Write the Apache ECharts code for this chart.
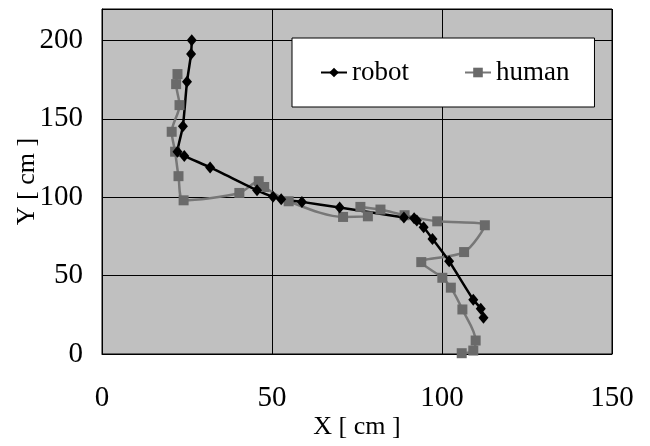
<!DOCTYPE html>
<html>
<head>
<meta charset="utf-8">
<script src="https://cdn.jsdelivr.net/npm/echarts@6/dist/echarts.min.js"></script>
<style>html,body{margin:0;padding:0;background:#fff}#c{width:650px;height:446px}</style>
</head>
<body>
<div id="c"></div>
<script>
var xTicks = [0, 50, 100, 150];
var yTicks = [0, 50, 100, 150, 200];
var robotX = [26.4, 26.2, 25.0, 23.8, 22.2, 24.2, 31.8, 45.6, 50.3, 52.7, 58.8, 69.9, 88.8, 91.8, 92.6, 94.6, 97.2, 102.1, 109.2, 111.4, 112.2];
var robotY = [200, 191.3, 173.6, 145.3, 129, 126.3, 119, 104.4, 100.2, 98.7, 97, 93.4, 87, 86.6, 85.2, 80.8, 73.4, 59.1, 34.6, 28.9, 23.1];
var humanX = [22.2, 21.8, 22.8, 20.5, 21.5, 22.5, 24.0, 40.4, 46.1, 47.7, 54.9, 70.9, 78.2, 76.0, 81.9, 89.0, 98.6, 112.6, 106.5, 93.9, 100.1, 102.6, 106.0, 109.9, 109.2, 105.8];
var humanY = [178.5, 172.1, 158.7, 141.7, 129, 113.4, 98, 102.7, 110.2, 106.5, 97.4, 87.4, 87.8, 93.8, 92.1, 88.5, 84.6, 82.1, 65, 58.6, 48.6, 42.3, 28.4, 8.6, 2.2, 0.5];

function pairs(xs, ys) { return xs.map(function (x, i) { return [x, ys[i]]; }); }
var FONT = 'Liberation Serif';
var chart = echarts.init(document.getElementById('c'), null, { renderer: 'canvas' });
chart.setOption({
  animation: false,
  textStyle: { fontFamily: FONT, color: '#000' },
  grid: { left: 102, right: 38, top: 9, bottom: 92, containLabel: false, outerBoundsMode: 'none',
    show: true, backgroundColor: '#c0c0c0', borderColor: '#000', borderWidth: 1 },
  legend: {
    data: ['robot', 'human'],
    left: 292, top: 38,
    padding: [21, 25, 21, 28],
    itemGap: 55, itemWidth: 26, itemHeight: 12,
    backgroundColor: '#fff', borderColor: '#000', borderWidth: 1,
    textStyle: { fontFamily: FONT, fontSize: 27, color: '#000' }
  },
  xAxis: {
    type: 'value', min: xTicks[0], max: xTicks[xTicks.length - 1], interval: 50,
    name: 'X [ cm ]', nameLocation: 'middle', nameGap: 60, nameMoveOverlap: false,
    nameTextStyle: { fontFamily: FONT, fontSize: 26, color: '#000' },
    axisLine: { show: true, lineStyle: { color: '#000', width: 1 } },
    axisTick: { show: false },
    axisLabel: { fontFamily: FONT, fontSize: 29, color: '#000', margin: 30 },
    splitLine: { show: true, lineStyle: { color: '#000', width: 1 } }
  },
  yAxis: {
    type: 'value', min: yTicks[0], max: 220, interval: 50,
    name: 'Y [ cm ]', nameLocation: 'middle', nameGap: 75, nameMoveOverlap: false,
    nameTextStyle: { fontFamily: FONT, fontSize: 26, color: '#000', verticalAlign: 'middle' },
    axisLine: { show: true, lineStyle: { color: '#000', width: 1 } },
    axisTick: { show: false },
    axisLabel: { fontFamily: FONT, fontSize: 29, color: '#000', margin: 19, showMaxLabel: false,
      formatter: function (v) { return yTicks.indexOf(v) >= 0 ? String(v) : ''; } },
    splitLine: { show: true, lineStyle: { color: '#000', width: 1 } }
  },
  series: [
    {
      name: 'human', type: 'line', data: pairs(humanX, humanY), smooth: 0.3,
      symbol: 'rect', symbolSize: 10,
      itemStyle: { color: '#6a6a6a' },
      lineStyle: { color: '#777777', width: 2.5 }
    },
    {
      name: 'robot', type: 'line', data: pairs(robotX, robotY), smooth: 0.2,
      symbol: 'diamond', symbolSize: [10, 12],
      itemStyle: { color: '#000' },
      lineStyle: { color: '#000', width: 2.5 }
    }
  ]
});
</script>
</body>
</html>
